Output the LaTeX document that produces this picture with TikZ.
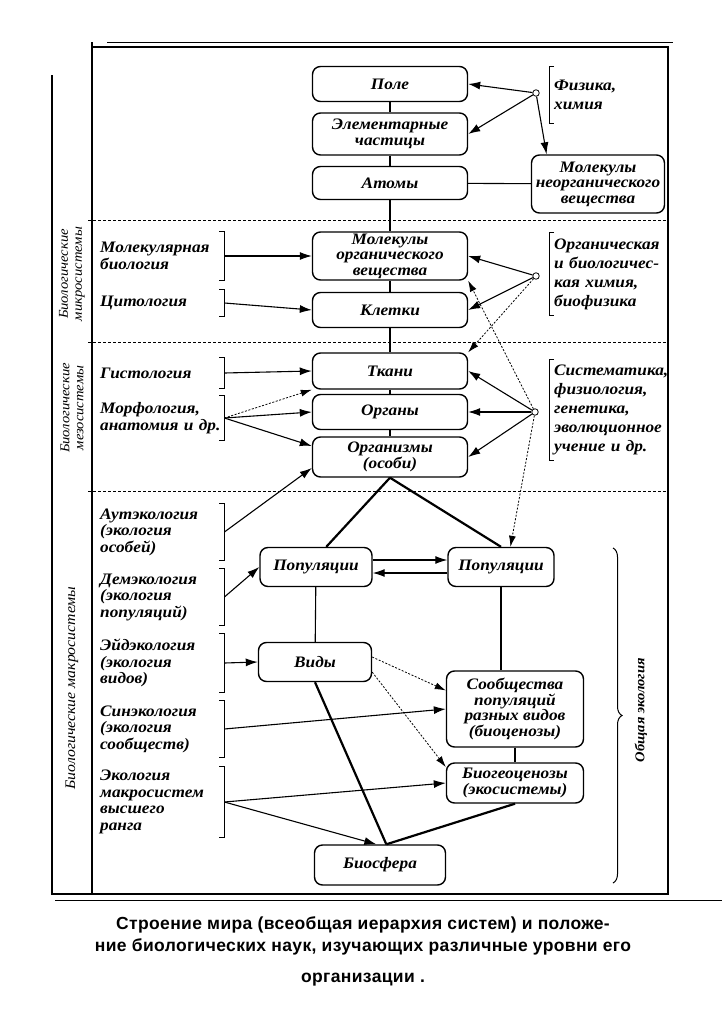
\documentclass[tikz,border=0pt]{standalone}
\usepackage{fontspec}
\setmainfont{Liberation Serif}[FakeStretch=1.08]
\newfontfamily\captionfont{Liberation Sans}[LetterSpace=2]
\usetikzlibrary{arrows.meta,decorations.pathreplacing}

\tikzstyle{levelbox}=[draw,line width=1.4pt,rounded corners=8pt,align=center,inner sep=1pt,font=\bfseries\itshape\fontsize{16}{15.5}\selectfont]
\tikzstyle{scienceleft}=[anchor=west,align=left,text width=122pt,inner xsep=2pt,inner ysep=3pt,font=\bfseries\itshape\fontsize{16}{16.5}\selectfont]
\tikzstyle{scienceright}=[anchor=west,align=left,text width=116pt,inner xsep=5pt,inner ysep=2pt,font=\bfseries\itshape\fontsize{16}{19}\selectfont]
\tikzstyle{systemlabel}=[rotate=90,align=center,font=\itshape\fontsize{13.5}{14}\selectfont]
\tikzstyle{hub}=[draw,circle,inner sep=0pt,minimum size=6.5pt,fill=white,line width=0.8pt]
\tikzstyle{studyarc}=[-{Latex[length=12pt,width=8pt]},line width=1.1pt]
\tikzstyle{hintarc}=[-{Latex[length=11pt,width=7pt]},line width=0.8pt,dash pattern=on 2pt off 1.6pt]
\tikzstyle{rankline}=[line width=1.1pt]
\tikzstyle{heavyline}=[line width=2.2pt]
\tikzstyle{bracketline}=[line width=1pt]
\tikzstyle{levelsep}=[line width=0.8pt,dash pattern=on 3pt off 2pt]

\begin{document}
\begin{tikzpicture}[x=1pt,y=-1pt]
\useasboundingbox (0,0) rectangle (727,1036);

% frame
\draw[line width=1.3pt] (52,75) -- (52,894) -- (668,894) -- (668,47) -- (92,47);
\draw[line width=1.3pt] (92,42) -- (92,894);
\draw[line width=1pt] (107,42) -- (673,42);
\draw[line width=1pt] (55,900) -- (722,900);
\draw[levelsep] (88,220) -- (668,220);
\draw[levelsep] (88,342) -- (668,342);
\draw[levelsep] (88,491) -- (668,491);

\node[systemlabel] (MICROSYS) at (72,274) {Биологические\\микросистемы};
\node[systemlabel] (MESOSYS) at (72,408) {Биологические\\мезосистемы};
\node[systemlabel,font=\itshape\fontsize{14.6}{15}\selectfont] (MACROSYS) at (72,688) {Биологические макросистемы};

% levels of organisation
\node[levelbox,minimum width=155pt,minimum height=35pt] (POLE) at (390,84) {Поле};
\node[levelbox,minimum width=155pt,minimum height=42pt] (PART) at (390,134) {Элементарные\\частицы};
\node[levelbox,minimum width=155pt,minimum height=33pt] (ATOM) at (390,183) {Атомы};
\node[levelbox,minimum width=133pt,minimum height=58pt] (INORG) at (598,184) {Молекулы\\неорганического\\вещества};
\node[levelbox,minimum width=155pt,minimum height=48pt] (ORGMOL) at (390,256) {Молекулы\\органического\\вещества};
\node[levelbox,minimum width=155pt,minimum height=35pt] (CELL) at (390,310) {Клетки};
\node[levelbox,minimum width=155pt,minimum height=36pt] (TISSUE) at (390,371) {Ткани};
\node[levelbox,minimum width=155pt,minimum height=35pt] (ORGAN) at (390,412) {Органы};
\node[levelbox,minimum width=155pt,minimum height=40pt] (BODY) at (390,457) {Организмы\\(особи)};
\node[levelbox,minimum width=112pt,minimum height=39pt] (POPA) at (316,567) {Популяции};
\node[levelbox,minimum width=106pt,minimum height=39pt] (POPB) at (501,567) {Популяции};
\node[levelbox,minimum width=113pt,minimum height=39pt] (SPEC) at (315,662) {Виды};
\node[levelbox,minimum width=137pt,minimum height=76pt] (COMM) at (515,709) {Сообщества\\популяций\\разных видов\\(биоценозы)};
\node[levelbox,minimum width=137pt,minimum height=40pt] (ECO) at (515,783) {Биогеоценозы\\(экосистемы)};
\node[levelbox,minimum width=131pt,minimum height=40pt] (BIOS) at (380,865) {Биосфера};

% sciences, left
\node[scienceleft,minimum height=48pt] (MOLBIO) at (98,256) {Молекулярная\\биология};
\node[scienceleft,minimum height=26pt] (CYTO) at (98,303) {Цитология};
\node[scienceleft,minimum height=30pt] (HIST) at (98,373) {Гистология};
\node[scienceleft,minimum height=45pt] (MORPH) at (98,418) {Морфология,\\анатомия и др.};
\node[scienceleft,minimum height=57pt] (AUTO) at (98,532) {Аутэкология\\(экология\\особей)};
\node[scienceleft,minimum height=57pt] (DEM) at (98,597) {Демэкология\\(экология\\популяций)};
\node[scienceleft,minimum height=59pt] (EID) at (98,663) {Эйдэкология\\(экология\\видов)};
\node[scienceleft,minimum height=57pt] (SYN) at (98,729) {Синэкология\\(экология\\сообществ)};
\node[scienceleft,minimum height=70pt] (MACRO) at (98,802) {Экология\\макросистем\\высшего\\ранга};

\foreach \s in {MOLBIO,CYTO,HIST,MORPH,AUTO,DEM,EID,SYN,MACRO}
  \draw[bracketline] ([xshift=-5pt]\s.north east) -- (\s.north east) -- (\s.south east) -- ([xshift=-5pt]\s.south east);

% sciences, right
\node[scienceright,minimum height=56pt] (PHYS) at (549,95) {Физика,\\химия};
\node[scienceright,minimum height=82pt] (ORGCHEM) at (549,274) {Органическая\\и биологичес-\\кая химия,\\биофизика};
\node[scienceright,minimum height=100pt] (SYST) at (549,410) {Систематика,\\физиология,\\генетика,\\эволюционное\\учение и др.};

\foreach \s in {PHYS,ORGCHEM,SYST}
  \draw[bracketline] ([xshift=5pt]\s.north west) -- (\s.north west) -- (\s.south west) -- ([xshift=5pt]\s.south west);

\node[hub] (PHYSHUB) at (536,93) {};
\node[hub] (ORGHUB) at (536,276) {};
\node[hub] (SYSTHUB) at (535,412) {};

% hierarchy
\draw[rankline] (POLE) -- (PART);
\draw[rankline] (PART) -- (ATOM);
\draw[rankline] (ATOM) -- (ORGMOL);
\draw[rankline] (ATOM) -- (INORG);
\draw[rankline] (ORGMOL) -- (CELL);
\draw[rankline] (CELL) -- (TISSUE);
\draw[rankline] (TISSUE) -- (ORGAN);
\draw[rankline] (ORGAN) -- (BODY);
\draw[heavyline] (BODY.south) -- (POPA.63);
\draw[heavyline] (BODY.south) -- (POPB.north);
\draw[rankline] (POPA) -- (SPEC);
\draw[rankline] (POPB.south) -- (POPB.south |- COMM.north);
\draw[rankline] (COMM) -- (ECO);
\draw[heavyline] (SPEC.south) -- (BIOS.73);
\draw[heavyline] (ECO.south) -- (BIOS.73);
\draw[studyarc] ([yshift=7pt]POPA.east) -- ([yshift=7pt]POPB.west);
\draw[studyarc] ([yshift=-6pt]POPB.west) -- ([yshift=-6pt]POPA.east);

% what each science studies
\draw[studyarc] (PHYSHUB) -- (POLE.east);
\draw[studyarc] (PHYSHUB) -- (PART.east);
\draw[studyarc] (PHYSHUB) -- (INORG.150);
\draw[studyarc] (ORGHUB) -- (ORGMOL.east);
\draw[studyarc] (ORGHUB) -- (CELL.east);
\draw[hintarc] (ORGHUB) -- (TISSUE.north east);
\draw[studyarc] (SYSTHUB) -- (TISSUE.east);
\draw[studyarc] (SYSTHUB) -- (ORGAN.east);
\draw[studyarc] (SYSTHUB) -- (BODY.east);
\draw[hintarc] (SYSTHUB) -- (ORGMOL.south east);
\draw[hintarc] (SYSTHUB) -- (POPB.65);

\draw[studyarc] (MOLBIO.east) -- (ORGMOL.west);
\draw[studyarc] (CYTO.east) -- (CELL.west);
\draw[studyarc] (HIST.east) -- (TISSUE.west);
\draw[hintarc] (MORPH.east) -- (TISSUE.south west);
\draw[studyarc] (MORPH.east) -- (ORGAN.west);
\draw[studyarc] (MORPH.east) -- (BODY.172);
\draw[studyarc] (AUTO.east) -- (BODY.188);
\draw[studyarc] (DEM.east) -- (POPA.west);
\draw[studyarc] (EID.east) -- (SPEC.west);
\draw[hintarc] (SPEC.5) -- (COMM.165);
\draw[hintarc] (SPEC.-10) -- (ECO.167);
\draw[studyarc] (SYN.east) -- (COMM.west);
\draw[studyarc] (MACRO.east) -- (ECO.west);
\draw[studyarc] (MACRO.east) -- (BIOS.100);

% general ecology
\draw[bracketline,decorate,decoration={brace,amplitude=9pt}] (613,548) -- (613,883);
\node[rotate=90,font=\bfseries\itshape\fontsize{13.5}{15}\selectfont] (GENECO) at (641,710) {Общая экология};

\node[anchor=north,align=center,inner sep=0pt,font=\captionfont\bfseries\fontsize{17.5}{22}\selectfont] (CAPTION) at (363,916) {Строение мира (всеобщая иерархия систем) и положе-\\ние биологических наук, изучающих различные уровни его\\[9pt]организации .};

\end{tikzpicture}
\end{document}
